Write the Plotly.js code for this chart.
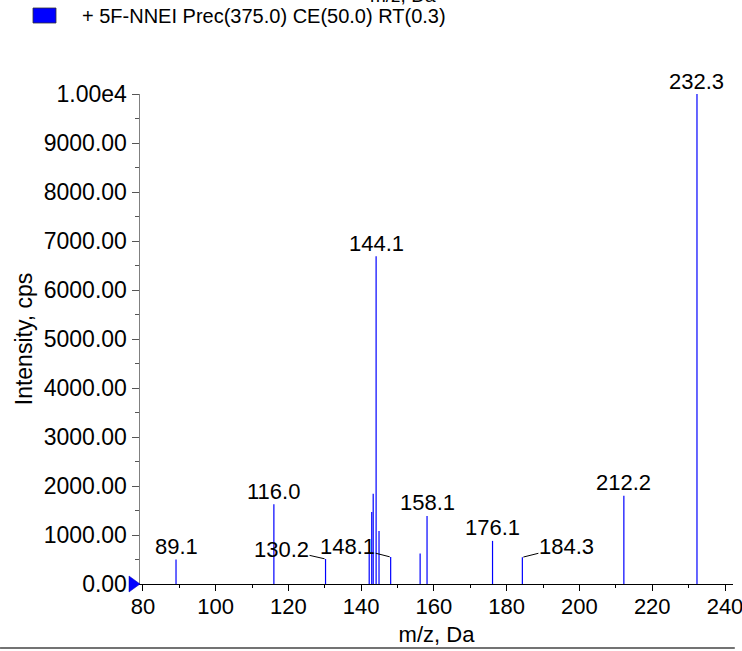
<!DOCTYPE html>
<html>
<head>
<meta charset="utf-8">
<script src="https://cdn.plot.ly/plotly-3.0.1.min.js"></script>
<style>html,body{margin:0;padding:0;background:#fff;}#chart{width:742px;height:651px;}</style>
</head>
<body>
<div id="chart"></div>
<script>
// Peak m/z values and intensities (cps)
const mz = [89.1, 116.0, 130.2, 142.2, 142.9, 143.3, 144.1, 144.9, 148.1, 156.2, 158.1, 176.1, 184.3, 212.2, 232.3];
const intensity = [500, 1630, 510, 640, 1470, 1840, 6690, 1080, 550, 620, 1390, 880, 545, 1800, 10000];

// Labelled peaks
const labelMz = [89.1, 116.0, 144.1, 158.1, 176.1, 212.2, 232.3];
const labelInt = [500, 1630, 6690, 1390, 880, 1800, 10000];
const labelText = ["89.1", "116.0", "144.1", "158.1", "176.1", "212.2", "232.3"];

// Labelled peaks with leader lines
const leadMz = [130.2, 148.1, 184.3];
const leadInt = [510, 550, 545];
const leadText = ["130.2", "148.1", "184.3"];

const yTickVals = [0, 1000, 2000, 3000, 4000, 5000, 6000, 7000, 8000, 9000, 10000];
const yTickText = ["0.00", "1000.00", "2000.00", "3000.00", "4000.00", "5000.00", "6000.00", "7000.00", "8000.00", "9000.00", "1.00e4"];

const legendText = "+ 5F-NNEI Prec(375.0) CE(50.0) RT(0.3)";
const xTitle = "m/z, Da";
const yTitle = "Intensity, cps";

const FONT = "Liberation Sans, Arial, sans-serif";
const FS = 22;

// build stick lines
const lx = [], ly = [];
mz.forEach((m, i) => { lx.push(m, m, null); ly.push(0, intensity[i], null); });

const traces = [{
  type: "scatter", mode: "lines", x: lx, y: ly,
  line: {color: "#0000ff", width: 1.2}, hoverinfo: "skip", showlegend: false, cliponaxis: false
}];

const annotations = [];
labelMz.forEach((m, i) => {
  annotations.push({x: m, y: labelInt[i], xref: "x", yref: "y", text: labelText[i],
    showarrow: false, yanchor: "middle", yshift: 13, font: {family: FONT, size: FS, color: "#000"}});
});
const leadAx = [-44, -43, 44];
const leadAy = [-10, -11, -11];
leadMz.forEach((m, i) => {
  annotations.push({x: m, y: leadInt[i], xref: "x", yref: "y", text: leadText[i],
    showarrow: true, arrowhead: 0, arrowwidth: 1, arrowcolor: "#000", standoff: 1,
    ax: leadAx[i], ay: leadAy[i], borderpad: 0, font: {family: FONT, size: FS, color: "#000"}});
});
annotations.push({xref: "paper", yref: "paper", x: -0.1012, y: 1.159, xanchor: "left", yanchor: "middle",
  text: legendText, showarrow: false, font: {family: FONT, size: 20, color: "#000"}});
annotations.push({xref: "paper", yref: "paper", x: 0.444, y: 1.1755, xanchor: "center", yanchor: "bottom",
  text: xTitle, showarrow: false, font: {family: FONT, size: 19, color: "#000"}});

const layout = {
  width: 742, height: 651,
  margin: {l: 140, r: 9, t: 94, b: 67},
  paper_bgcolor: "#fff", plot_bgcolor: "#fff",
  font: {family: FONT, size: FS, color: "#000"},
  showlegend: false,
  xaxis: {
    range: [79.2, 242.2], showgrid: false, zeroline: false,
    showline: true, linecolor: "#000", linewidth: 1,
    tickmode: "linear", tick0: 80, dtick: 20, ticks: "outside", ticklen: 6, tickcolor: "#000",
    minor: {dtick: 10, tick0: 80, ticks: "outside", ticklen: 3, tickcolor: "#000"},
    tickfont: {family: FONT, size: FS}, ticklabelstandoff: -3, ticklabeloverflow: "allow",
    title: {text: xTitle, font: {family: FONT, size: FS}, standoff: 8}
  },
  yaxis: {
    range: [0, 10000], showgrid: false, zeroline: false,
    showline: true, linecolor: "#808080", linewidth: 1.5,
    tickmode: "array", tickvals: yTickVals, ticktext: yTickText,
    ticks: "outside", ticklen: 7, tickcolor: "#555",
    minor: {tickvals: [500,1500,2500,3500,4500,5500,6500,7500,8500,9500], ticks: "outside", ticklen: 4, tickcolor: "#555"},
    tickfont: {family: FONT, size: 23}, ticklabelstandoff: 0, ticklabeloverflow: "allow",
    title: {text: yTitle, font: {family: FONT, size: 23}, standoff: 4}
  },
  shapes: [
    {type: "path", xref: "paper", yref: "paper", xsizemode: "pixel", ysizemode: "pixel",
     xanchor: 0, yanchor: 0, path: "M -11 8 L 0 0 L -11 -8 Z", fillcolor: "#0000ff", line: {color: "#0000aa", width: 0.5}},
    {type: "rect", xref: "paper", yref: "paper", xsizemode: "pixel", ysizemode: "pixel",
     xanchor: 0, yanchor: 1, x0: -107, x1: -84, y0: 71, y1: 86, fillcolor: "#0000ff", line: {color: "#333", width: 0.8}},
    {type: "line", xref: "paper", yref: "paper", x0: -0.236, x1: 1.003, y0: -0.1306, y1: -0.1306,
     line: {color: "#444", width: 1.5}}
  ],
  annotations: annotations
};

Plotly.newPlot("chart", traces, layout, {displayModeBar: false, staticPlot: true});
</script>
</body>
</html>
